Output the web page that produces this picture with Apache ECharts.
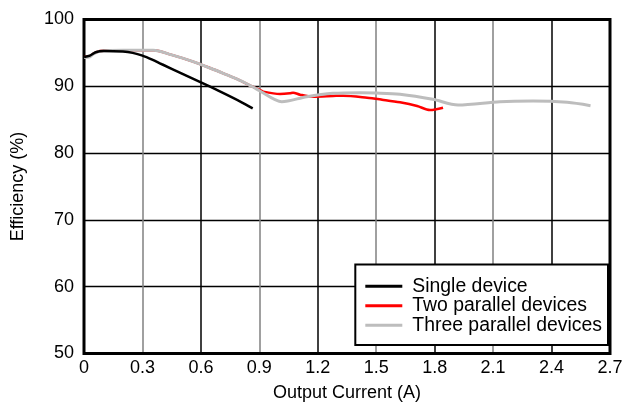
<!DOCTYPE html>
<html><head><meta charset="utf-8">
<script src="https://cdn.jsdelivr.net/npm/echarts@6/dist/echarts.min.js"></script>
<style>html,body{margin:0;padding:0;background:#fff}#c{width:623px;height:405px}</style>
</head><body><div id="c"></div>
<script>
const xTicks = [0, 0.3, 0.6, 0.9, 1.2, 1.5, 1.8, 2.1, 2.4, 2.7];
const yTicks = [50, 60, 70, 80, 90, 100];
const singleX = [0, 0.03, 0.06, 0.1, 0.2, 0.25, 0.3, 0.35, 0.4, 0.5, 0.6, 0.7, 0.8, 0.866];
const singleY = [94.4, 94.6, 95.1, 95.3, 95.2, 95.0, 94.6, 94.0, 93.3, 91.95, 90.6, 89.2, 87.75, 86.7];
const twoX = [0, 0.03, 0.048, 0.082, 0.2, 0.356, 0.45, 0.56, 0.65, 0.734, 0.8, 0.868, 0.903, 0.92, 1.006, 1.057, 1.073, 1.109, 1.176, 1.278, 1.33, 1.453, 1.53, 1.622, 1.71, 1.776, 1.843];
const twoY = [94.4, 94.5, 94.9, 95.3, 95.4, 95.4, 94.7, 93.7, 92.7, 91.7, 90.9, 89.9, 89.45, 89.2, 88.85, 88.95, 89.05, 88.75, 88.45, 88.55, 88.6, 88.3, 88.0, 87.6, 87.05, 86.45, 86.8];
const threeX = [0, 0.03, 0.048, 0.082, 0.2, 0.356, 0.45, 0.56, 0.65, 0.734, 0.8, 0.868, 0.903, 1.015, 1.143, 1.278, 1.417, 1.5, 1.622, 1.79, 1.92, 2.135, 2.305, 2.48, 2.6];
const threeY = [94.3, 94.4, 94.85, 95.25, 95.4, 95.4, 94.7, 93.7, 92.7, 91.7, 90.9, 89.9, 89.3, 87.7, 88.45, 88.95, 89.05, 89.0, 88.8, 88.05, 87.2, 87.7, 87.8, 87.6, 87.1];
const names = ['Single device', 'Two parallel devices', 'Three parallel devices'];
const colors = ['#000000', '#ff0000', '#bdbdbd'];
const zip = (a, b) => a.map((v, i) => [v, b[i]]);
const font = 'Liberation Sans, Arial, Helvetica, sans-serif';
const chart = echarts.init(document.getElementById('c'));
chart.setOption({
  animation: false,
  grid: { left: 84, right: 13, top: 19.5, bottom: 51.5, outerBoundsMode: 'none', containLabel: false,
    show: true, borderColor: '#000', borderWidth: 3, z: 3 },
  legend: {
    orient: 'vertical', right: 15, bottom: 60,
    data: names.map(n => ({ name: n, icon: 'rect' })),
    itemWidth: 37, itemHeight: 3, itemGap: 0,
    borderColor: '#000', borderWidth: 2, padding: [12, 6, 10, 10],
    backgroundColor: '#fff',
    textStyle: { fontFamily: font, fontSize: 19.4, lineHeight: 19.5, color: '#000', padding: [0, 0, 0, 5] }
  },
  xAxis: {
    type: 'value', min: 0, max: 2.7, interval: 0.3,
    name: 'Output Current (A)', nameLocation: 'middle', nameGap: 31,
    nameTextStyle: { fontFamily: font, fontSize: 18, color: '#000' },
    axisLine: { show: false }, axisTick: { show: false },
    axisLabel: { fontFamily: font, fontSize: 18, color: '#000', margin: 6,
      formatter: v => v === 0 ? '0' : v.toFixed(1) },
    splitLine: { show: true, lineStyle: { color: ['#000', '#808080'], width: 1.5 } }
  },
  yAxis: {
    type: 'value', min: 50, max: 100, interval: 10,
    name: 'Efficiency (%)', nameLocation: 'middle', nameGap: 57,
    nameTextStyle: { fontFamily: font, fontSize: 18, color: '#000' },
    axisLine: { show: false }, axisTick: { show: false },
    axisLabel: { fontFamily: font, fontSize: 18, color: '#000', margin: 10 },
    splitLine: { show: true, lineStyle: { color: '#000', width: 1.3 } }
  },
  series: [
    { name: names[2], type: 'line', data: zip(threeX, threeY), symbol: 'none', smooth: 0.3, z: 4,
      lineStyle: { color: colors[2], width: 3 }, itemStyle: { color: colors[2] } },
    { name: names[1], type: 'line', data: zip(twoX, twoY), symbol: 'none', smooth: 0.3, z: 3,
      lineStyle: { color: colors[1], width: 2.5 }, itemStyle: { color: colors[1] } },
    { name: names[0], type: 'line', data: zip(singleX, singleY), symbol: 'none', smooth: 0.3, z: 5,
      lineStyle: { color: colors[0], width: 2.5 }, itemStyle: { color: colors[0] } }
  ]
});
</script></body></html>
